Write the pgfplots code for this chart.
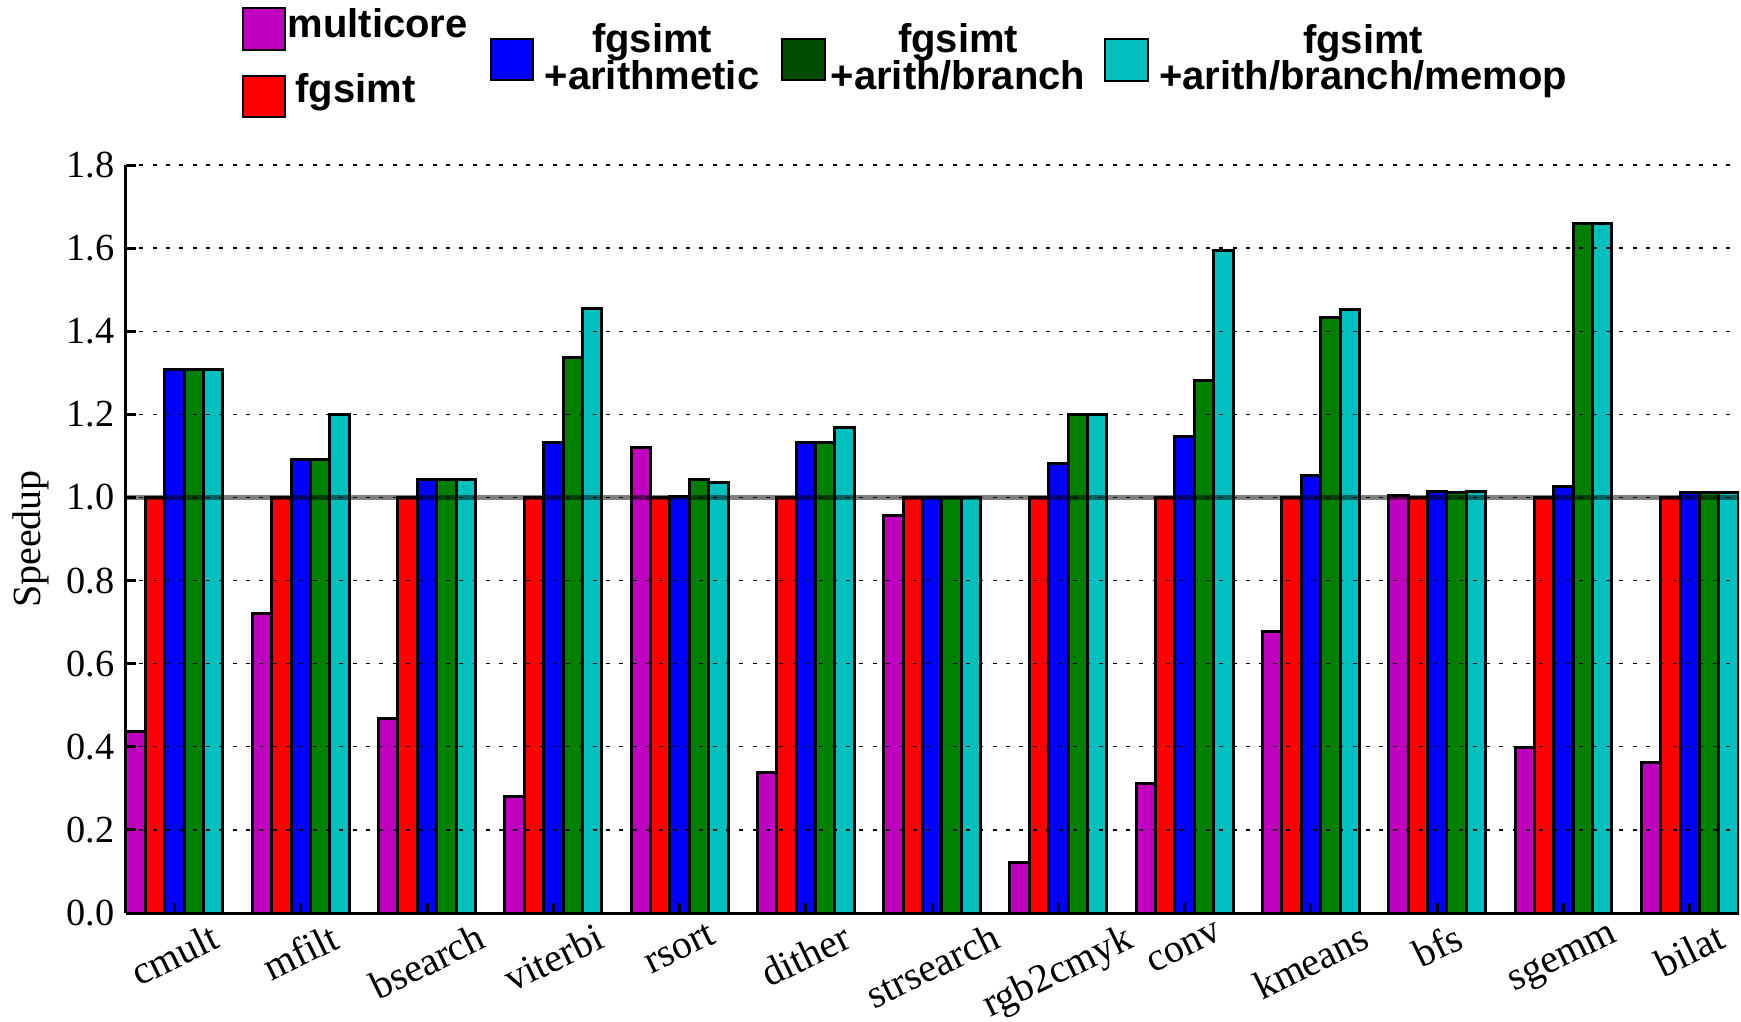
\documentclass[border=0pt]{standalone}
\usepackage{fontspec}
\setmainfont{Liberation Serif}
\newfontfamily\legfont{Liberation Sans}
\usepackage{graphicx}
\usepackage{pgfplots}
\pgfplotsset{compat=1.18}
\definecolor{cmag}{HTML}{BF00BF}
\definecolor{cred}{HTML}{FF0000}
\definecolor{cblue}{HTML}{0000FF}
\definecolor{cgreen}{HTML}{008000}
\definecolor{cgreenleg}{HTML}{004D00}
\definecolor{ccyan}{HTML}{00BFBF}
\newcommand{\rl}[1]{\rotatebox{26}{#1}}
\begin{document}
\begin{tikzpicture}
\path[use as bounding box] (0,0) rectangle (522.3pt,306.3pt);
\begin{axis}[
  at={(37.8pt,32.4pt)}, anchor=south west,
  scale only axis, width=483.9pt, height=224.4pt,
  xmin=-0.384, xmax=12.39, ymin=0, ymax=1.8,
  ybar, bar width=0.1536,
  axis x line*=bottom, axis y line*=left,
  axis line style={-, line width=0.9pt},
  axis on top,
  xtick={0,1,2,3,4,5,6,7,8,9,10,11,12},
  xticklabels={\rl{cmult},\rl{mfilt},\rl{bsearch},\rl{viterbi},\rl{rsort},\rl{dither},\rl{strsearch},\rl{rgb2cmyk},\rl{conv},\rl{kmeans},\rl{bfs},\rl{sgemm},\rl{bilat}},
  x tick label style={anchor=north, yshift=0pt, inner sep=2.5pt, font=\fontsize{12}{13}\selectfont},
  ytick={0,0.2,0.4,0.6,0.8,1.0,1.2,1.4,1.6,1.8},
  y tick label style={font=\fontsize{11.5}{12}\selectfont, /pgf/number format/fixed, /pgf/number format/fixed zerofill, /pgf/number format/precision=1, /pgf/number format/assume math mode=true},
  ymajorgrids,
  grid style={black, line width=0.4pt, dash pattern=on 1.2pt off 2.8pt},
  tick align=inside, major tick length=3pt,
  tick style={black, line width=0.9pt},
  ylabel={Speedup},
  ylabel style={font=\fontsize{12}{14}\selectfont, at={(axis description cs:-0.0589,0.5)}, anchor=center},
  every axis plot/.append style={draw=black, line width=0.9pt},
]
\addplot[fill=cmag, bar shift=-0.3072] coordinates {(0,0.436) (1,0.721) (2,0.468) (3,0.281) (4,1.120) (5,0.338) (6,0.957) (7,0.121) (8,0.311) (9,0.677) (10,1.004) (11,0.399) (12,0.362)};
\addplot[fill=cred, bar shift=-0.1536] coordinates {(0,1) (1,1) (2,1) (3,1) (4,1) (5,1) (6,1) (7,1) (8,1) (9,1) (10,1) (11,1) (12,1)};
\addplot[fill=cblue, bar shift=0] coordinates {(0,1.308) (1,1.091) (2,1.043) (3,1.132) (4,1.003) (5,1.132) (6,1.0) (7,1.081) (8,1.147) (9,1.053) (10,1.014) (11,1.026) (12,1.011)};
\addplot[fill=cgreen, bar shift=0.1536] coordinates {(0,1.308) (1,1.091) (2,1.043) (3,1.336) (4,1.042) (5,1.132) (6,1.0) (7,1.199) (8,1.281) (9,1.433) (10,1.013) (11,1.660) (12,1.011)};
\addplot[fill=ccyan, bar shift=0.3072] coordinates {(0,1.308) (1,1.199) (2,1.043) (3,1.455) (4,1.036) (5,1.169) (6,1.0) (7,1.199) (8,1.594) (9,1.452) (10,1.015) (11,1.660) (12,1.011)};
\draw[black, opacity=0.5, line width=1.4pt] (axis cs:-0.384,1) -- (axis cs:12.39,1);
\end{axis}
\begin{scope}[x=0.3pt, y=-0.3pt, shift={(0pt,306.3pt)}]
\tikzset{sw/.style={draw=black, line width=0.8pt}, lt/.style={inner sep=0pt, font=\legfont\bfseries\fontsize{12}{14}\selectfont}}
\draw[sw, fill=cmag] (243,8) rectangle (285,50);
\node[lt, anchor=base west] at (287,37) {multicore};
\draw[sw, fill=cred] (243,76) rectangle (285,117);
\node[lt, anchor=base west] at (295,102) {fgsimt};
\draw[sw, fill=cblue] (491,39) rectangle (533,80);
\node[lt, anchor=base] at (652,52) {fgsimt};
\node[lt, anchor=base] at (652,89) {+arithmetic};
\draw[sw, fill=cgreenleg] (782,39) rectangle (825,80);
\node[lt, anchor=base] at (958,52) {fgsimt};
\node[lt, anchor=base] at (958,89) {+arith/branch};
\draw[sw, fill=ccyan] (1105,39) rectangle (1148,81);
\node[lt, anchor=base] at (1363,53) {fgsimt};
\node[lt, anchor=base] at (1363,89) {+arith/branch/memop};
\end{scope}
\end{tikzpicture}
\end{document}
